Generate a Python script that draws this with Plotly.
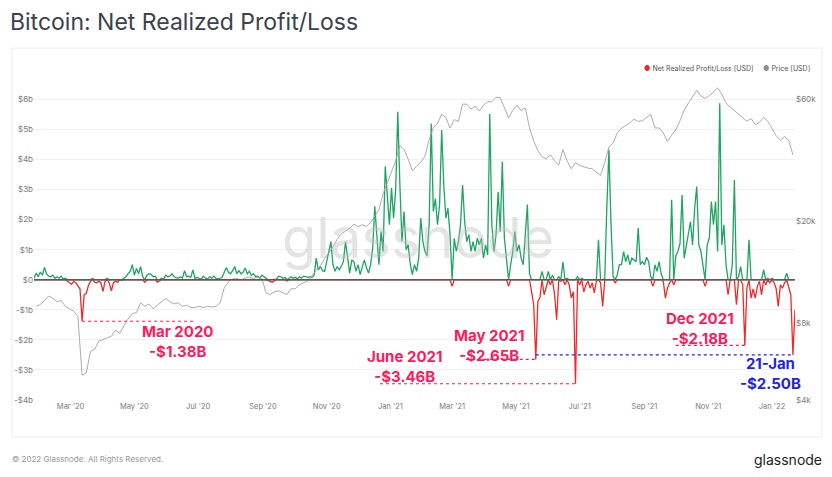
import numpy as np
import pandas as pd
import plotly.graph_objects as go

# ---------------- DATA ----------------
# Net Realized Profit/Loss, billions USD, one value every 2 days from nrpl_start
nrpl_start = "2020-01-26"
nrpl_values = [
    0.05, 0.22, 0.10, 0.25, 0.15, 0.41, 0.20, 0.12, 0.10, 0.15,
    0.05, 0.10, 0.05, 0.12, 0.02, 0.05, -0.05, -0.10, -0.15, -0.05,
    -0.10, -0.20, -0.30, -1.38, -0.50, -0.45, -0.20, -0.05, 0.05, -0.08,
    -0.10, -0.05, -0.10, -0.39, -0.05, 0.05, -0.10, -0.37, -0.10, -0.05,
    -0.08, 0.02, -0.03, 0.05, 0.10, 0.20, 0.28, 0.50, 0.15, 0.38,
    0.20, 0.44, 0.10, -0.08, 0.15, 0.20, 0.18, 0.10, 0.12, -0.08,
    -0.05, 0.05, 0.02, 0.15, 0.10, 0.12, 0.20, 0.10, 0.08, 0.05,
    0.10, 0.05, 0.30, 0.10, 0.12, 0.08, 0.33, 0.05, 0.08, 0.05,
    0.02, 0.12, 0.05, 0.03, 0.10, 0.05, 0.12, 0.05, 0.03, 0.05,
    0.08, 0.25, 0.41, 0.25, 0.20, 0.30, 0.44, 0.20, 0.30, 0.20,
    0.25, 0.39, 0.20, 0.28, 0.15, 0.20, 0.10, 0.12, 0.05, 0.15,
    0.10, 0.05, -0.03, -0.05, -0.08, -0.03, 0.02, 0.12, 0.10, 0.05,
    0.08, -0.04, 0.05, 0.10, 0.05, 0.08, 0.03, 0.10, 0.05, 0.12,
    0.10, 0.08, 0.10, 0.08, 0.15, 0.72, 0.33, 0.44, 0.30, 0.28,
    0.60, 1.00, 1.27, 0.50, 0.28, 0.44, 0.33, 0.45, 0.61, 1.27,
    0.72, 0.22, 0.66, 0.60, 0.28, 0.50, 0.17, 0.40, 0.66, 0.41,
    0.22, 0.50, 1.05, 2.44, 1.38, 0.50, 1.60, 0.94, 3.77, 2.82,
    1.83, 3.05, 2.05, 3.00, 5.59, 3.16, 1.27, 2.27, 1.00, 1.16,
    0.50, 0.17, 0.50, 0.28, 0.72, 2.05, 1.27, 0.94, 0.80, 1.83,
    5.20, 2.27, 2.70, 1.83, 2.50, 4.98, 3.16, 2.05, 2.38, 1.50,
    -0.22, 1.38, 0.94, 1.27, 1.83, 3.15, 1.93, 1.27, 1.50, 0.94,
    1.27, 0.94, 1.38, 1.16, 1.38, 0.72, 1.16, 0.83, 5.51, 1.83,
    0.94, 1.50, 2.93, 1.60, 3.93, 1.38, 0.55, -0.22, 0.50, 0.94,
    1.60, 0.94, 1.16, 0.72, 0.50, 1.60, 2.50, 0.20, -0.40, -0.83,
    -2.65, -0.72, -0.60, 0.28, -0.50, -0.20, 0.28, -0.17, 0.15, -0.50,
    -1.33, 0.10, -0.05, 0.60, -0.17, 0.05, -0.17, -0.60, -0.40, -3.46,
    0.10, -0.17, 0.05, -0.40, -0.17, -0.05, -0.28, -0.10, -0.44, -0.05,
    1.33, -0.10, -0.89, 0.05, 2.44, 4.32, 1.83, 0.10, -0.10, 0.17,
    0.50, 0.50, 0.94, 0.60, 0.83, 0.50, 0.72, 0.66, 0.60, 1.72,
    0.50, 0.60, 0.50, 0.75, 0.60, 0.10, -0.22, 0.50, 0.28, 0.60,
    0.20, -0.05, -0.61, -0.28, -0.10, 2.66, -0.17, 0.80, 0.94, 1.20,
    2.82, 0.72, 1.16, 1.50, 1.93, 1.16, 2.38, 3.10, 1.16, 0.94,
    0.40, -0.22, 1.16, 1.38, 2.60, 1.83, 2.60, 0.94, 5.87, 1.16,
    1.83, 0.50, -0.50, 0.00, 0.50, 3.32, -0.83, 0.10, 0.44, -0.17,
    -2.18, -0.28, 1.33, -0.61, -0.30, -0.61, -0.22, -0.05, -0.50, 0.33,
    -0.17, 0.05, -0.10, 0.05, -0.10, -0.30, -0.89, -0.17, -0.28, -0.10,
    0.22, -0.30, -0.50, -2.50, -1.00,
]

# BTC price, USD, one value every 4 days from price_start
price_start = "2020-01-28"
price_values = [
    9300, 9450, 9800, 10200, 10000, 9700, 9800, 9300, 9100, 8900,
    8500, 5000, 5100, 6200, 6300, 6800, 6900, 7000, 7100, 7500,
    7300, 7800, 8300, 8700, 8800, 9600, 9300, 9500, 9100, 9400,
    9700, 10000, 9700, 9500, 9600, 9300, 9400, 9200, 9200, 9300,
    9200, 9300, 9250, 9300, 9600, 11000, 11600, 11900, 11950, 11800,
    12000, 12100, 11950, 12100, 11950, 10500, 10350, 10600, 10700, 10500,
    10350, 10900, 10900, 11300, 11500, 11700, 12300, 12900, 13400, 14300,
    15000, 15900, 17000, 17900, 18300, 18800, 19500, 19000, 19400, 19100,
    19800, 20900, 22200, 25700, 28500, 31000, 34500, 39600, 38100, 35000,
    31500, 32900, 34000, 36000, 41700, 46500, 48300, 52500, 51000, 46300,
    50000, 49200, 57500, 57500, 55000, 56500, 54000, 57000, 58700, 58700,
    61100, 61000, 55500, 50800, 54300, 57000, 54300, 55500, 46500, 41300,
    37800, 35800, 35100, 36400, 34500, 33200, 38200, 34500, 32100, 33900,
    33100, 32600, 32300, 32100, 31000, 30200, 34000, 39100, 40500, 44400,
    46300, 47300, 48500, 50300, 49200, 49500, 51000, 52500, 46400, 46400,
    44400, 41100, 43500, 45600, 49500, 54500, 58000, 61500, 65000, 61900,
    60500, 62000, 64000, 66500, 63000, 58000, 56000, 54300, 52600, 51000,
    49300, 50500, 47800, 48800, 51000, 49200, 46400, 43300, 41500, 42900,
    41500, 36400,
]

left_tick_vals = [6, 5, 4, 3, 2, 1, 0, -1, -2, -3, -4]
left_tick_text = ["$6b", "$5b", "$4b", "$3b", "$2b", "$1b", "$0",
                  "-$1b", "-$2b", "-$3b", "-$4b"]
right_tick_vals = [4000, 8000, 20000, 60000]
right_tick_text = ["$4k", "$8k", "$20k", "$60k"]
x_tick_dates = ["2020-03-01", "2020-05-01", "2020-07-01", "2020-09-01",
                "2020-11-01", "2021-01-01", "2021-03-01", "2021-05-01",
                "2021-07-01", "2021-09-01", "2021-11-01", "2022-01-01"]
x_tick_text = ["Mar '20", "May '20", "Jul '20", "Sep '20", "Nov '20", "Jan '21",
               "Mar '21", "May '21", "Jul '21", "Sep '21", "Nov '21", "Jan '22"]

# call-outs: label, value text, value (b), dashed line start / end dates
callout_labels = ["Mar 2020", "June 2021", "May 2021", "Dec 2021", "21-Jan"]
callout_texts = ["-$1.38B", "-$3.46B", "-$2.65B", "-$2.18B", "-$2.50B"]
callout_values = [-1.38, -3.46, -2.65, -2.18, -2.50]
callout_line_from = ["2020-03-12", "2020-12-22", "2021-03-14", "2021-10-01", "2021-05-20"]
callout_line_to = ["2020-06-29", "2021-06-27", "2021-05-20", "2021-12-06", "2022-01-21"]

# ---------------- FIGURE ----------------
W, H = 832, 477
ML, MR, MT, MB = 34, 37, 86, 77
PW, PH = W - ML - MR, H - MT - MB


def px(x, y):
    return (x - ML) / PW, (H - MB - y) / PH


GREEN = "#1fa463"
RED = "#f02a2a"
PINK = "#ff1a5c"
BLUE = "#1f22ee"
FONT = "Inter"

nrpl_dates = pd.date_range(nrpl_start, periods=len(nrpl_values), freq="2D")
price_dates = pd.date_range(price_start, periods=len(price_values), freq="4D")
v = np.array(nrpl_values)
pos = np.clip(v, 0, None)
neg = np.clip(v, None, 0)

fig = go.Figure()
fig.add_trace(go.Scatter(x=price_dates, y=price_values, yaxis="y2", mode="lines",
                         line=dict(color="#a3a3a3", width=0.9), showlegend=False,
                         name="Price [USD]"))
fig.add_trace(go.Scatter(x=nrpl_dates, y=neg, mode="lines",
                         line=dict(color=RED, width=1.3), showlegend=False))
fig.add_trace(go.Scatter(x=nrpl_dates, y=pos, mode="lines",
                         line=dict(color=GREEN, width=1.3), showlegend=False,
                         name="Net Realized Profit/Loss [USD]"))

ymax = 6.445
y2min = np.log10(4000)
y2max = np.log10(60000) + (ymax - 6) * (np.log10(60000) - y2min) / 10

shapes = [
    # zero line on top of the series
    dict(type="line", xref="paper", yref="y", x0=0, x1=1, y0=0, y1=0,
         line=dict(color="#5a5a5a", width=1.5), layer="above"),
    # card border
    dict(type="rect", xref="paper", yref="paper",
         x0=px(12, 0)[0], x1=px(822, 0)[0], y0=px(0, 48)[1], y1=px(0, 437)[1],
         line=dict(color="#ececec", width=1), layer="below"),
]
for i in range(len(callout_labels)):
    col = BLUE if i == 4 else PINK
    shapes.append(dict(type="line", xref="x", yref="y",
                       x0=callout_line_from[i], x1=callout_line_to[i],
                       y0=callout_values[i], y1=callout_values[i],
                       line=dict(color=col, width=1.2, dash="3px,3px"), layer="above"))

annotations = []


def add_text(x, y, text, size, color, xanchor="center", family=FONT, yanchor="middle"):
    ax, ay = px(x, y)
    annotations.append(dict(xref="paper", yref="paper", x=ax, y=ay, text=text,
                            showarrow=False, xanchor=xanchor, yanchor=yanchor,
                            font=dict(size=size, color=color, family=family)))


# watermark
add_text(418, 238, "glassnode", 56, "rgba(190,190,190,0.42)", family="Inter")

# call-out texts (two lines each)
text_centers = [(177, 341), (404, 366), (489.5, 345), (700, 328), (770, 373)]
for i in range(len(callout_labels)):
    col = BLUE if i == 4 else PINK
    cx, cy = text_centers[i]
    add_text(cx, cy, "<b>" + callout_labels[i] + "</b><br><b>" + callout_texts[i] + "</b>",
             15, col)

# legend
add_text(756, 68, "<span style='color:%s'>●</span> Net Realized Profit/Loss [USD]" % RED,
         7, "#555555", xanchor="right")
add_text(812, 68, "<span style='color:#8f8f8f'>●</span> Price [USD]",
         7, "#555555", xanchor="right")

# footer
add_text(10, 459, "© 2022 Glassnode. All Rights Reserved.", 8, "#9a9a9a", xanchor="left")
add_text(824, 459, "glassnode", 14, "#222222", xanchor="right")

fig.update_layout(
    width=W, height=H,
    margin=dict(l=ML, r=MR, t=MT, b=MB),
    paper_bgcolor="white", plot_bgcolor="white",
    showlegend=False,
    title=dict(text="Bitcoin: Net Realized Profit/Loss", x=10 / W, xanchor="left",
               y=1 - 22 / H, yanchor="middle",
               font=dict(family=FONT, size=23, color="#3b414d")),
    xaxis=dict(type="date", range=["2020-01-26", "2022-01-23"],
               tickvals=x_tick_dates, ticktext=x_tick_text, showgrid=False,
               zeroline=False, showline=False, ticks="",
               tickfont=dict(family=FONT, size=7.5, color="#7a7a7a")),
    yaxis=dict(range=[-4, ymax], tickvals=left_tick_vals, ticktext=left_tick_text,
               showgrid=True, gridcolor="#f0f0f0", gridwidth=1, zeroline=False,
               showline=False, ticks="",
               tickfont=dict(family=FONT, size=8, color="#7a7a7a")),
    yaxis2=dict(type="log", overlaying="y", side="right", range=[y2min, y2max],
                tickvals=right_tick_vals, ticktext=right_tick_text,
                showgrid=False, zeroline=False, showline=False, ticks="",
                tickfont=dict(family=FONT, size=8, color="#7a7a7a")),
    shapes=shapes,
    annotations=annotations,
)

fig.write_html("out.html", config={"displayModeBar": False},
               post_script="document.body.style.margin='0px';")
